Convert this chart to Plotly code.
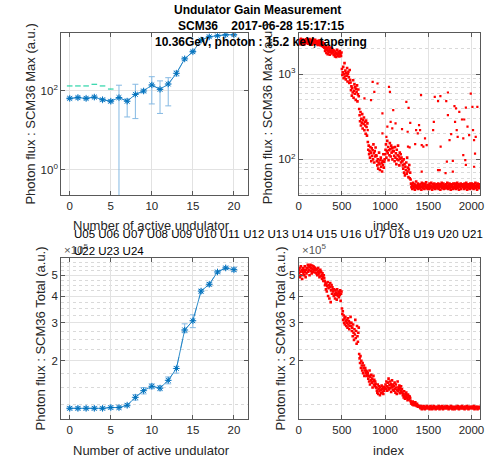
import plotly.graph_objects as go

# ---------------- data ----------------
undulators = list(range(21))
# top-left: SCM36 Max vs number of active undulators
max_mean = [65, 68, 65, 70, 60, 55, 68, 55, 82, 100, 142, 110, 150, 280, 650, 990, 1940, 2360, 2500, 2650, 2650]
max_hi = [70, 73, 70, 75, 65, 60, 140, 63, 148, 110, 230, 180, 217, 320, 700, 1050, 2050, 2450, 2600, 2750, 2750]
max_lo = [60, 63, 60, 65, 55, 50, -1, 22, 20, 90, 47, 27, 42, 240, 600, 930, 1830, 2270, 2400, 2550, 2550]
cap_und = [0, 1, 2, 3, 4, 5]
cap_val = [134, 134, 134, 148, 134, 112]

# bottom-left: SCM36 Total (x 1e5)
tot_mean = [1.20, 1.20, 1.20, 1.20, 1.20, 1.21, 1.21, 1.24, 1.35, 1.45, 1.52, 1.49, 1.62, 1.84, 2.78, 3.07, 4.22, 4.54, 5.18, 5.41, 5.31]
tot_hi = [1.22, 1.22, 1.22, 1.22, 1.22, 1.23, 1.23, 1.26, 1.39, 1.50, 1.56, 1.53, 1.68, 1.88, 2.97, 3.27, 4.30, 4.62, 5.25, 5.48, 5.42]
tot_lo = [1.18, 1.18, 1.18, 1.18, 1.18, 1.19, 1.19, 1.22, 1.31, 1.40, 1.48, 1.45, 1.56, 1.75, 2.70, 2.85, 4.12, 4.44, 5.10, 5.33, 5.20]

# top-right: SCM36 Max per shot (every 5th shot)
max_shots = [
    2450, 2300, 2520, 2380, 2250, 2600, 2410, 2330, 2480, 2290, 2550, 2360, 2420, 2240, 2500, 2390, 2310, 2570, 2440, 2350,
    2400, 2520, 2280, 2460, 2350, 2590, 2300, 2430, 2380, 2500, 2220, 2470, 2340, 2560, 2410, 2290, 2450, 2370, 2530, 2320,
    2380, 2270, 2450, 2330, 2210, 2400, 2300, 2480, 2250, 2360, 2190, 2420, 2280, 2340, 2150, 2390, 2230, 2100, 2300, 2050,
    2050, 1880, 1950, 2150, 1780, 1920, 2010, 1720, 1860, 2100, 1810, 1960, 1690, 1900, 2060, 1840, 1750, 1980, 1870, 1930,
    1800, 1680, 1900, 1720, 1620, 1850, 1760, 1590, 1700, 1930, 1740, 1650, 1820, 1780, 1610, 1870, 1700, 1760, 1640, 1800,
    1150, 980, 1050, 1220, 900, 1010, 1350, 940, 1100, 870, 1030, 960, 1180, 820, 1000, 1070, 920, 790, 1120, 860,
    800, 650, 720, 560, 690, 610, 850, 530, 640, 760, 590, 700, 500, 670, 620, 740, 480, 580, 660, 550,
    390, 330, 280, 360, 250, 300, 270, 340, 230, 290, 260, 310, 220, 275, 250, 200, 285, 240, 190, 265,
    160, 130, 145, 115, 125, 105, 140, 120, 95, 135, 110, 128, 100, 150, 118, 92, 125, 108, 138, 112,
    110, 95, 85, 100, 78, 92, 120, 88, 75, 98, 105, 82, 90, 72, 96, 86, 115, 80, 94, 100,
    115, 130, 150, 105, 125, 165, 118, 140, 98, 128, 112, 155, 132, 108, 145, 120, 135, 100, 125, 138,
    125, 110, 95, 140, 105, 118, 88, 130, 100, 112, 145, 98, 108, 85, 120, 102, 115, 92, 105, 96,
    95, 85, 78, 100, 70, 88, 65, 82, 75, 92, 68, 105, 72, 80, 62, 76, 86, 60, 70, 58,
    52, 47, 50, 45, 49, 53, 46, 48, 51, 44, 50, 47, 55, 46, 49, 48, 52, 45, 50, 47,
    49, 46, 51, 48, 44, 53, 47, 50, 46, 52, 48, 45, 49, 51, 47, 54, 46, 48, 50, 45,
    47, 50, 45, 52, 48, 46, 49, 53, 47, 44, 51, 48, 46, 50, 52, 47, 45, 49, 48, 51,
    50, 46, 48, 52, 45, 49, 47, 51, 44, 50, 48, 53, 46, 49, 47, 52, 45, 48, 50, 46,
    48, 51, 46, 49, 53, 47, 45, 50, 48, 52, 46, 49, 44, 51, 47, 50, 48, 45, 52, 47,
    46, 49, 52, 47, 45, 50, 48, 53, 46, 49, 51, 44, 48, 50, 47, 52, 45, 49, 48, 51,
    51, 47, 49, 45, 52, 48, 46, 50, 53, 47, 44, 49, 51, 46, 48, 50, 45, 52, 47, 49,
    49, 52, 46, 48, 50, 45, 51, 47, 49, 53, 46, 48, 50, 44, 52, 47, 49, 46, 51, 48,
]
# isolated high shots
out_index = [1045, 1056, 1094, 1064, 1121, 1083, 1196, 1246, 1272, 1291, 1261, 1265, 1284, 1348, 1359, 1378,
             1393, 1405, 1416, 1424, 1443, 1462, 1481, 1424, 1575, 1564, 1556, 1613, 1640, 1708, 1727, 1643,
             1727, 1715, 1746, 1765, 1784, 1803, 1821, 1810, 1829, 1840, 1859, 1890, 1916, 1935, 1954, 1905,
             1905, 1928, 1935, 1992, 2011, 2018, 2049, 2030, 2041, 2030, 2068, 1973, 1700, 1613, 1632, 1784,
             856, 912, 875, 837, 761, 969, 1026, 799, 969, 1015]
out_value = [711, 621, 378, 276, 264, 231, 227, 474, 403, 269, 211, 141, 138, 151, 221, 202,
             252, 221, 567, 147, 141, 176, 147, 72, 542, 276, 221, 483, 552, 483, 610, 141,
             331, 94, 168, 198, 96, 422, 396, 276, 221, 184, 362, 294, 294, 406, 242, 176,
             112, 98, 86, 593, 414, 221, 184, 168, 117, 82, 414, 193, 69, 75, 75, 72,
             813, 778, 621, 496, 519, 346, 242, 221, 202, 184]

# bottom-right: SCM36 Total per shot (x 1e5, every 5th shot)
tot_shots = [
    5.3, 5.1, 5.4, 4.9, 5.2, 5.5, 5.0, 5.3, 4.8, 5.2, 5.4, 5.1, 5.3, 5.0, 5.5, 5.2, 4.9, 5.3, 5.1, 5.4,
    5.4, 5.6, 5.2, 5.5, 5.3, 5.0, 5.45, 5.6, 5.25, 5.4, 5.1, 5.55, 5.35, 5.2, 5.5, 5.3, 5.45, 5.15, 5.4, 5.3,
    5.3, 5.1, 5.35, 5.0, 5.2, 5.4, 5.05, 5.25, 4.9, 5.15, 5.3, 4.95, 5.2, 5.0, 4.8, 5.1, 4.9, 4.7, 5.0, 4.85,
    4.7, 4.5, 4.6, 4.3, 4.55, 4.2, 4.45, 4.65, 4.0, 4.35, 4.5, 3.9, 4.4, 4.6, 3.75, 4.25, 4.5, 4.1, 4.4, 4.3,
    4.2, 4.0, 4.3, 4.1, 3.9, 4.25, 4.05, 4.15, 3.85, 4.3, 4.1, 4.0, 4.2, 3.95, 4.15, 4.05, 4.25, 3.8, 4.1, 4.2,
    3.5, 3.3, 3.4, 3.1, 3.25, 3.0, 3.15, 2.95, 3.2, 3.05, 2.9, 3.1, 3.0, 2.85, 3.15, 2.95, 3.05, 2.8, 2.9, 3.0,
    3.2, 2.9, 3.0, 2.75, 2.85, 2.6, 2.95, 2.7, 2.5, 2.8, 2.65, 3.1, 2.55, 2.75, 2.4, 2.9, 2.6, 2.45, 2.7, 2.85,
    2.15, 2.05, 1.95, 2.1, 1.85, 2.0, 1.9, 1.8, 1.95, 1.75, 1.85, 1.9, 1.7, 1.8, 1.85, 1.75, 1.8, 1.7, 1.78, 1.72,
    1.75, 1.65, 1.7, 1.6, 1.8, 1.55, 1.68, 1.62, 1.72, 1.58, 1.65, 1.5, 1.6, 1.7, 1.55, 1.63, 1.52, 1.6, 1.56, 1.5,
    1.5, 1.45, 1.42, 1.55, 1.4, 1.48, 1.52, 1.44, 1.38, 1.5, 1.46, 1.41, 1.53, 1.47, 1.43, 1.49, 1.4, 1.51, 1.45, 1.48,
    1.5, 1.55, 1.48, 1.6, 1.52, 1.45, 1.58, 1.5, 1.65, 1.47, 1.54, 1.6, 1.49, 1.56, 1.43, 1.52, 1.62, 1.5, 1.46, 1.55,
    1.52, 1.45, 1.58, 1.48, 1.42, 1.55, 1.5, 1.4, 1.46, 1.6, 1.44, 1.5, 1.47, 1.53, 1.41, 1.49, 1.45, 1.52, 1.43, 1.47,
    1.42, 1.38, 1.4, 1.35, 1.44, 1.37, 1.33, 1.4, 1.36, 1.42, 1.34, 1.38, 1.31, 1.39, 1.35, 1.37, 1.32, 1.36, 1.34, 1.3,
    1.28, 1.26, 1.27, 1.25, 1.29, 1.26, 1.24, 1.27, 1.25, 1.26, 1.28, 1.24, 1.25, 1.23, 1.26, 1.24, 1.22, 1.23, 1.22, 1.23,
    1.22, 1.21, 1.2, 1.23, 1.21, 1.19, 1.22, 1.2, 1.21, 1.23, 1.2, 1.22, 1.19, 1.21, 1.22, 1.2, 1.21, 1.23, 1.2, 1.21,
    1.21, 1.2, 1.22, 1.19, 1.21, 1.23, 1.2, 1.22, 1.21, 1.19, 1.22, 1.2, 1.21, 1.23, 1.2, 1.21, 1.22, 1.19, 1.21, 1.2,
    1.2, 1.22, 1.21, 1.2, 1.23, 1.21, 1.19, 1.22, 1.2, 1.21, 1.22, 1.2, 1.23, 1.21, 1.19, 1.2, 1.22, 1.21, 1.2, 1.22,
    1.22, 1.2, 1.21, 1.23, 1.2, 1.21, 1.22, 1.19, 1.21, 1.2, 1.22, 1.21, 1.2, 1.23, 1.21, 1.2, 1.19, 1.22, 1.21, 1.2,
    1.21, 1.19, 1.22, 1.2, 1.21, 1.22, 1.2, 1.21, 1.23, 1.2, 1.21, 1.19, 1.22, 1.2, 1.21, 1.22, 1.2, 1.21, 1.23, 1.2,
    1.2, 1.21, 1.22, 1.2, 1.19, 1.21, 1.22, 1.2, 1.21, 1.23, 1.2, 1.22, 1.21, 1.19, 1.2, 1.22, 1.21, 1.2, 1.22, 1.21,
    1.21, 1.2, 1.22, 1.21, 1.2, 1.23, 1.21, 1.19, 1.2, 1.22, 1.21, 1.2, 1.22, 1.21, 1.19, 1.21, 1.2, 1.22, 1.21, 1.2,
]
shot_step = 5
shot_index = list(range(0, len(max_shots) * shot_step, shot_step))

und_ticks = [0, 5, 10, 15, 20]
index_ticks = [0, 500, 1000, 1500, 2000]
max_log_minor = [40, 50, 60, 70, 80, 90, 200, 300, 400, 500, 600, 700, 800, 900, 2000, 3000]
tot_ticks = [2, 3, 4, 5, 6]
tot_minor = [1.25, 1.5, 1.75, 2.25, 2.5, 2.75, 3.25, 3.5, 3.75, 4.25, 4.5, 4.75, 5.25, 5.5, 5.75]
u_line1 = "U05 U06 U07 U08 U09 U10 U11 U12 U13 U14 U15 U16 U17 U18 U19 U20 U21"
u_line2 = "U22 U23 U24"

# ---------------- style ----------------
FONT = "Liberation Sans, Arial, Helvetica, sans-serif"
BLUE = "#0072BD"
LIGHT = "#85b9e3"
RED = "#ff0000"

fig = go.Figure()

err_plus_max = [h - m for h, m in zip(max_hi, max_mean)]
err_minus_max = [m - l for m, l in zip(max_mean, max_lo)]
err_plus_tot = [h - m for h, m in zip(tot_hi, tot_mean)]
err_minus_tot = [m - l for m, l in zip(tot_mean, tot_lo)]

# top-left
fig.add_trace(go.Scatter(x=undulators, y=max_mean, mode="lines+markers", xaxis="x", yaxis="y",
                         line=dict(color=LIGHT, width=1, dash="dash"),
                         marker=dict(symbol="asterisk-open", size=6, line=dict(color=LIGHT, width=1)),
                         error_y=dict(type="data", symmetric=False, array=err_plus_max,
                                      arrayminus=err_minus_max, color=LIGHT, thickness=1, width=3)))
fig.add_trace(go.Scatter(x=undulators, y=max_mean, mode="lines+markers", xaxis="x", yaxis="y",
                         line=dict(color=BLUE, width=0.8),
                         marker=dict(symbol="asterisk-open", size=5, line=dict(color=BLUE, width=1))))
fig.add_trace(go.Scatter(x=cap_und, y=cap_val, mode="markers", xaxis="x", yaxis="y",
                         marker=dict(symbol="line-ew-open", size=4, line=dict(color="#4f97d3", width=1))))

# top-right
fig.add_trace(go.Scatter(x=shot_index, y=max_shots, mode="markers", xaxis="x2", yaxis="y2",
                         marker=dict(color=RED, size=2.6, symbol="square", line=dict(width=0))))
fig.add_trace(go.Scatter(x=out_index, y=out_value, mode="markers", xaxis="x2", yaxis="y2",
                         marker=dict(color=RED, size=2.2, symbol="square", line=dict(width=0))))

# bottom-left
fig.add_trace(go.Scatter(x=undulators, y=tot_mean, mode="lines+markers", xaxis="x3", yaxis="y3",
                         line=dict(color=LIGHT, width=1, dash="dash"),
                         marker=dict(symbol="asterisk-open", size=6, line=dict(color=LIGHT, width=1)),
                         error_y=dict(type="data", symmetric=False, array=err_plus_tot,
                                      arrayminus=err_minus_tot, color=LIGHT, thickness=1, width=3)))
fig.add_trace(go.Scatter(x=undulators, y=tot_mean, mode="lines+markers", xaxis="x3", yaxis="y3",
                         line=dict(color=BLUE, width=0.8),
                         marker=dict(symbol="asterisk-open", size=5, line=dict(color=BLUE, width=1))))

# bottom-right
fig.add_trace(go.Scatter(x=shot_index, y=tot_shots, mode="markers", xaxis="x4", yaxis="y4",
                         marker=dict(color=RED, size=2.6, symbol="square", line=dict(width=0))))

W, H = 492, 461
def px_x(p):
    return p / W
def px_y(p):
    return 1 - p / H

common = dict(showline=True, linecolor="#595959", linewidth=1, mirror="ticks", ticks="inside",
              ticklen=4, tickwidth=1, tickcolor="#595959", showgrid=True, gridcolor="#e2e2e2",
              gridwidth=1, zeroline=False,
              tickfont=dict(family=FONT, size=11.5, color="#262626"))
minor_style = dict(showgrid=True, gridcolor="#d9d9d9", griddash="dot", gridwidth=1, ticks="")

dom_xl = [px_x(59), px_x(249)]
dom_xr = [px_x(300), px_x(484)]
dom_yt = [px_y(195), px_y(33.3)]
dom_yb = [px_y(419), px_y(258.3)]

fig.update_layout(
    width=W, height=H, margin=dict(l=0, r=0, t=0, b=0),
    paper_bgcolor="white", plot_bgcolor="white", showlegend=False,
    xaxis=dict(common, domain=dom_xl, anchor="y", range=[-1.04, 21.77],
               tickmode="array", tickvals=und_ticks),
    yaxis=dict(common, domain=dom_yt, anchor="x", type="log", range=[-0.633, 3.46],
               tickmode="array", tickvals=[1, 100],
               ticktext=["10<sup>0</sup>", "10<sup>2</sup>"]),
    xaxis2=dict(common, domain=dom_xr, anchor="y2", range=[0, 2100],
                tickmode="array", tickvals=index_ticks),
    yaxis2=dict(common, domain=dom_yt, anchor="x2", type="log", range=[1.582, 3.48],
                tickmode="array", tickvals=[100, 1000],
                ticktext=["10<sup>2</sup>", "10<sup>3</sup>"],
                minor=dict(minor_style, tickmode="array", tickvals=max_log_minor)),
    xaxis3=dict(common, domain=dom_xl, anchor="y3", range=[-1.04, 21.77],
                tickmode="array", tickvals=und_ticks),
    yaxis3=dict(common, domain=dom_yb, anchor="x3", type="log", range=[0.0294, 0.778],
                tickmode="array", tickvals=tot_ticks, ticktext=[str(t) for t in tot_ticks],
                minor=dict(minor_style, tickmode="array", tickvals=tot_minor)),
    xaxis4=dict(common, domain=dom_xr, anchor="y4", range=[0, 2100],
                tickmode="array", tickvals=index_ticks),
    yaxis4=dict(common, domain=dom_yb, anchor="x4", type="log", range=[0.0294, 0.778],
                tickmode="array", tickvals=tot_ticks, ticktext=[str(t) for t in tot_ticks],
                minor=dict(minor_style, tickmode="array", tickvals=tot_minor)),
)

def ann(text, x, y, size=13, bold=False, angle=0, xanchor="center", color="#262626"):
    fig.add_annotation(text=("<b>%s</b>" % text) if bold else text,
                       x=x, y=y, xref="paper", yref="paper", showarrow=False,
                       xanchor=xanchor, yanchor="middle", textangle=angle,
                       font=dict(family=FONT, size=size, color=color))

# titles
ann("Undulator Gain Measurement", px_x(258), px_y(10), size=12, bold=True, color="black")
ann("SCM36&nbsp;&nbsp;&nbsp;&nbsp;2017-06-28 15:17:15", px_x(262), px_y(25.5), size=12, bold=True, color="black")
ann("10.36GeV, photon : 15.2 keV, tapering", px_x(262), px_y(41.7), size=12, bold=True, color="black")

# axis titles
ann("Photon flux : SCM36 Max (a.u.)", px_x(27), px_y(114), angle=-90)
ann("Photon flux : SCM36 Max (a.u.)", px_x(268), px_y(114), angle=-90)
ann("Photon flux : SCM36 Total (a.u.)", px_x(38), px_y(338), angle=-90)
ann("Photon flux : SCM36 Total (a.u.)", px_x(281.5), px_y(338), angle=-90)
ann("Number of active undulator", px_x(151), px_y(225))
ann("index", px_x(391.5), px_y(225))
ann("Number of active undulator", px_x(151), px_y(450))
ann("index", px_x(391.5), px_y(450))

# exponent labels
ann("\u00d710<sup>5</sup>", px_x(60), px_y(249), size=11.5, xanchor="left", color="#555555")
ann("\u00d710<sup>5</sup>", px_x(301), px_y(249), size=11.5, xanchor="left", color="#555555")

# undulator list
ann(u_line1, px_x(70), px_y(234), size=11.5, xanchor="left", color="black")
ann(u_line2, px_x(70), px_y(250.5), size=11.5, xanchor="left", color="black")

fig.write_html("out.html")
